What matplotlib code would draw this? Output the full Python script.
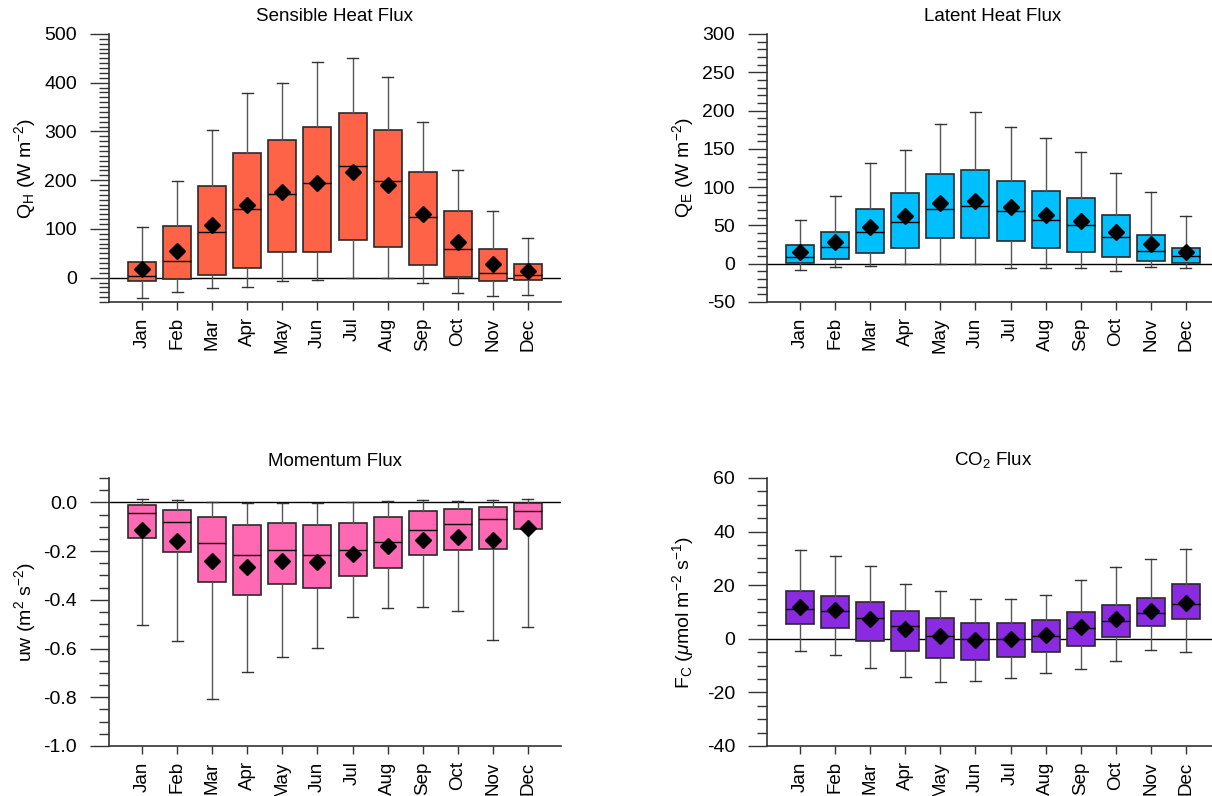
import matplotlib
matplotlib.use("Agg")
import matplotlib.pyplot as plt
from matplotlib.ticker import MultipleLocator, FuncFormatter

plt.rcParams['font.family'] = ['Liberation Sans', 'DejaVu Sans']
plt.rcParams['mathtext.fontset'] = 'custom'
plt.rcParams['mathtext.rm'] = 'Liberation Sans'
plt.rcParams['mathtext.it'] = 'Liberation Sans:italic'
plt.rcParams['mathtext.bf'] = 'Liberation Sans:bold'
plt.rcParams['axes.unicode_minus'] = False

months = ['Jan', 'Feb', 'Mar', 'Apr', 'May', 'Jun',
          'Jul', 'Aug', 'Sep', 'Oct', 'Nov', 'Dec']

# sensible heat flux QH (W m-2)
qh_whishi = [104, 198, 302, 378, 400, 443, 451, 412, 320, 220, 137, 82]
qh_q3     = [33, 106, 189, 256, 282, 310, 337, 302, 216, 136, 58, 29]
qh_med    = [4, 35, 93, 140, 172, 194, 230, 198, 124, 58, 9, 5]
qh_q1     = [-7.5, -3, 6, 20, 53, 52, 78, 62, 25, 1, -7.5, -5]
qh_whislo = [-42, -29, -21, -19, -7.5, -4, -1, -1, -10, -32, -38, -35]
qh_mean   = [18, 55, 109, 150, 176, 194, 216, 191, 131, 74, 27, 14]

# latent heat flux QE (W m-2)
qe_whishi = [57, 89, 131, 149, 182, 198, 179, 164, 146, 118, 94, 62]
qe_q3     = [24, 41, 71, 92, 117, 122, 108, 95, 86, 63, 38, 21]
qe_med    = [9, 22, 42, 55, 72, 76, 69, 57, 50, 35, 17, 9.5]
qe_q1     = [1, 6, 14, 21, 33, 33, 30, 20, 15.6, 9, 3, 0.5]
qe_whislo = [-8, -4, -3.5, -1, 0, -1, -5, -6, -6, -9, -4, -5.5]
qe_mean   = [15, 29, 48, 62, 79, 82, 74, 63, 56, 41, 26, 15]

# momentum flux uw (m2 s-2)
uw_whishi = [0.014, 0.008, 0.003, -0.003, -0.003, -0.003, 0.001, 0.007, 0.01, 0.007, 0.01, 0.015]
uw_q3     = [-0.01, -0.03, -0.06, -0.093, -0.086, -0.093, -0.086, -0.06, -0.036, -0.027, -0.018, -0.003]
uw_med    = [-0.045, -0.082, -0.166, -0.215, -0.197, -0.216, -0.194, -0.164, -0.114, -0.088, -0.067, -0.036]
uw_q1     = [-0.145, -0.204, -0.327, -0.379, -0.335, -0.353, -0.301, -0.271, -0.218, -0.194, -0.19, -0.108]
uw_whislo = [-0.505, -0.57, -0.808, -0.698, -0.633, -0.598, -0.472, -0.435, -0.428, -0.447, -0.564, -0.512]
uw_mean   = [-0.115, -0.16, -0.24, -0.267, -0.242, -0.246, -0.211, -0.179, -0.153, -0.142, -0.153, -0.107]

# CO2 flux FC (umol m-2 s-1)
fc_whishi = [33, 31, 27, 20.4, 18, 14.8, 14.8, 16.4, 22, 26.9, 29.9, 33.6]
fc_q3     = [17.8, 16, 13.8, 10.3, 7.6, 6, 6, 7, 10, 12.6, 15.2, 20.3]
fc_med    = [11, 10.4, 7.8, 4.9, 1.2, -0.1, 0, 1.2, 4.2, 6.5, 9.6, 12.9]
fc_q1     = [5.6, 3.9, -0.7, -4.6, -7.1, -7.8, -6.7, -5.1, -2.5, 0.7, 4.7, 7.5]
fc_whislo = [-4.7, -6, -10.8, -14.3, -16.3, -15.9, -14.6, -12.6, -11.3, -8.2, -4.2, -5.1]
fc_mean   = [12, 10.6, 7.5, 3.6, 1.0, -0.6, 0.1, 1.6, 4.4, 7.3, 10.3, 13.3]


def draw_panel(ax, whislo, q1, med, q3, whishi, mean, color, title, ylabel,
               ylim, major, minor, fmt=None):
    stats = []
    for i in range(len(months)):
        stats.append(dict(whislo=whislo[i], q1=q1[i], med=med[i], q3=q3[i],
                          whishi=whishi[i], mean=mean[i], fliers=[]))
    pos = list(range(1, len(months) + 1))
    ax.axhline(0, color='black', lw=1, zorder=1)
    ax.bxp(stats, positions=pos, widths=0.8, patch_artist=True,
           showmeans=True, showfliers=False,
           boxprops=dict(facecolor=color, edgecolor='#2a2a2a', linewidth=1.2),
           medianprops=dict(color='black', linewidth=1),
           whiskerprops=dict(color='#555555', linewidth=1),
           capprops=dict(color='#333333', linewidth=1),
           capwidths=0.33,
           meanprops=dict(marker='D', markerfacecolor='black',
                          markeredgecolor='black', markersize=8))
    ax.set_xlim(0.05, 12.95)
    ax.set_ylim(*ylim)
    ax.set_xticks(pos)
    ax.set_xticklabels(months, rotation=90, fontsize=13.5)
    ax.yaxis.set_major_locator(MultipleLocator(major))
    ax.yaxis.set_minor_locator(MultipleLocator(minor))
    if fmt is not None:
        ax.yaxis.set_major_formatter(FuncFormatter(fmt))
    ax.tick_params(axis='y', which='major', length=14, width=1, pad=9,
                   labelsize=14, color='#333333')
    ax.tick_params(axis='y', which='minor', length=7, width=1, color='#333333')
    ax.tick_params(axis='x', which='major', length=6, width=1, pad=5,
                   color='#333333')
    for s in ['top', 'right']:
        ax.spines[s].set_visible(False)
    for s in ['left', 'bottom']:
        ax.spines[s].set_color('#333333')
        ax.spines[s].set_linewidth(1.2)
    ax.set_title(title, fontsize=13.5, pad=9)
    ax.set_ylabel(ylabel, fontsize=14)
    ax.yaxis.set_label_coords(-0.158, 0.5)


fig = plt.figure(figsize=(12.12, 7.96), dpi=100)
w, h = 452 / 1212, 268 / 796
ax1 = fig.add_axes([109 / 1212, 1 - 302 / 796, w, h])
ax2 = fig.add_axes([767 / 1212, 1 - 302 / 796, w, h])
ax3 = fig.add_axes([109 / 1212, 1 - 746 / 796, w, h])
ax4 = fig.add_axes([767 / 1212, 1 - 746 / 796, w, h])

draw_panel(ax1, qh_whislo, qh_q1, qh_med, qh_q3, qh_whishi, qh_mean,
           '#FF6347', 'Sensible Heat Flux',
           r'Q$_\mathregular{H}$ (W m$^{-2}$)', (-50, 500), 100, 10)
draw_panel(ax2, qe_whislo, qe_q1, qe_med, qe_q3, qe_whishi, qe_mean,
           '#00BFFF', 'Latent Heat Flux',
           r'Q$_\mathregular{E}$ (W m$^{-2}$)', (-50, 300), 50, 10)
draw_panel(ax3, uw_whislo, uw_q1, uw_med, uw_q3, uw_whishi, uw_mean,
           '#FF69B4', 'Momentum Flux',
           r'uw (m$^{2}$ s$^{-2}$)', (-1.0, 0.1), 0.2, 0.05,
           fmt=lambda v, p: '%.1f' % (round(v, 1) + 0.0))
draw_panel(ax4, fc_whislo, fc_q1, fc_med, fc_q3, fc_whishi, fc_mean,
           '#8A2BE2', r'CO$_\mathregular{2}$ Flux',
           r'F$_\mathregular{C}$ ($\mu$mol m$^{-2}$ s$^{-1}$)', (-40, 60), 20, 5)

plt.savefig('out.png', dpi=100)
